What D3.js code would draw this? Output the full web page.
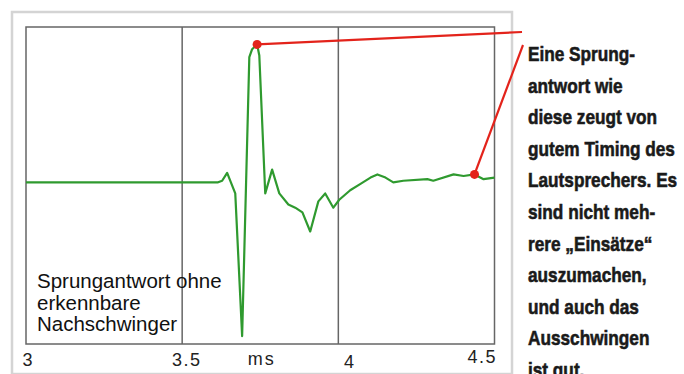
<!DOCTYPE html>
<html>
<head>
<meta charset="utf-8">
<script src="https://cdn.jsdelivr.net/npm/d3@7"></script>
<style>
  body { margin: 0; background: #fff; }
  svg { display: block; }
</style>
</head>
<body>
<div id="chart"></div>
<script>
const zeit = [3.000, 3.615, 3.628, 3.644, 3.670, 3.692, 3.715, 3.724, 3.740, 3.747,
              3.766, 3.788, 3.811, 3.840, 3.862, 3.885, 3.910, 3.936, 3.958, 3.984,
              4.003, 4.038, 4.071, 4.103, 4.125, 4.151, 4.176, 4.208, 4.285, 4.304,
              4.369, 4.401, 4.436, 4.465, 4.500];
const amplitude = [0.02, 0.02, 0.03, 0.08, -0.05, -0.95, 0.81, 0.86, 0.89, 0.82,
                   -0.05, 0.10, -0.05, -0.12, -0.14, -0.17, -0.29, -0.10, -0.05, -0.14,
                   -0.09, -0.03, 0.01, 0.05, 0.07, 0.05, 0.02, 0.03, 0.04, 0.03,
                   0.07, 0.06, 0.07, 0.04, 0.05];
const markerIdx = [8, 32];   // rote Punkte: Spitze und Ausschwingen

const tickWerte = [3, 3.5, 4, 4.5];
const tickText = ["3", "3.5", "4", "4.5"];
const gridWerte = [3.5, 4];
const einheit = "ms";

const notiz = ["Sprungantwort ohne", "erkennbare", "Nachschwinger"];
const randText = ["Eine Sprung-", "antwort wie", "diese zeugt von", "gutem Timing des",
                  "Lautsprechers. Es", "sind nicht meh-", "rere \u201eEinsätze\u201c",
                  "auszumachen,", "und auch das", "Ausschwingen", "ist gut."];

const W = 684, H = 374;
const plot = {left: 26, top: 27, right: 494.5, bottom: 344};

const svg = d3.select("#chart")
              .append("svg")
              .attr("width", W)
              .attr("height", H);

// äußerer Rahmen
svg.append("rect")
   .attr("x", 12).attr("y", 12)
   .attr("width", 500).attr("height", 362)
   .attr("fill", "none")
   .attr("stroke", "#d4d4d4")
   .attr("stroke-width", 2.5);

const x = d3.scaleLinear()
            .domain([3, 4.5])
            .range([plot.left, plot.right]);

const y = d3.scaleLinear()
            .domain([-1, 1])
            .range([plot.bottom, plot.top]);

// Gitter
svg.selectAll(".grid")
   .data(gridWerte)
   .enter()
   .append("line")
   .attr("class", "grid")
   .attr("x1", d => x(d)).attr("x2", d => x(d))
   .attr("y1", plot.top).attr("y2", plot.bottom)
   .attr("stroke", "#666")
   .attr("stroke-width", 1.5);

svg.append("rect")
   .attr("x", plot.left).attr("y", plot.top)
   .attr("width", plot.right - plot.left)
   .attr("height", plot.bottom - plot.top)
   .attr("fill", "none")
   .attr("stroke", "#666")
   .attr("stroke-width", 1.5);

// x-Achse, Beschriftung etwas versetzt wie im Original
const achse = svg.append("g")
   .attr("transform", `translate(0, ${plot.bottom})`)
   .call(d3.axisBottom(x)
           .tickValues(tickWerte)
           .tickFormat((d, i) => tickText[i])
           .tickSize(0)
           .tickPadding(0));
achse.select(".domain").remove();
achse.selectAll("text")
     .attr("y", 22)
     .attr("dy", 0)
     .style("font-family", "'Liberation Sans', Arial, sans-serif")
     .style("font-size", "18px")
     .style("letter-spacing", "1.5px")
     .attr("fill", "#222")
     .attr("text-anchor", (d, i) => i === 0 ? "start" : i === tickWerte.length - 1 ? "end" : "middle")
     .attr("dx", (d, i) => i === 0 ? -4 : i === 1 ? 4 : i === 2 ? 11 : 2)
     .attr("dy", (d, i) => i === 2 ? 2 : i === 3 ? -3 : 0);

svg.append("text")
   .attr("x", x(3.755))
   .attr("y", plot.bottom + 21)
   .attr("text-anchor", "middle")
   .style("font-family", "'Liberation Sans', Arial, sans-serif")
   .style("font-size", "18px")
   .style("letter-spacing", "2px")
   .attr("fill", "#222")
   .text(einheit);

// Kurve
const punkte = zeit.map((t, i) => ({t, a: amplitude[i]}));
const linie = d3.line()
                .x(d => x(d.t))
                .y(d => y(d.a));

svg.append("path")
   .datum(punkte)
   .attr("d", linie)
   .attr("fill", "none")
   .attr("stroke", "#2f9a2f")
   .attr("stroke-width", 2.2)
   .attr("stroke-linejoin", "round");

// Notiz links unten
svg.append("text")
   .attr("x", 37)
   .attr("y", 288)
   .style("font-family", "'Liberation Sans', Arial, sans-serif")
   .style("font-size", "20.5px")
   .attr("fill", "#111")
   .selectAll("tspan")
   .data(notiz)
   .enter()
   .append("tspan")
   .attr("x", 37)
   .attr("dy", (d, i) => i === 0 ? 0 : 21.5)
   .text(d => d);

// rote Hinweislinien
const spitze = punkte[markerIdx[0]], aus = punkte[markerIdx[1]];
svg.append("line")
   .attr("x1", x(spitze.t)).attr("y1", y(spitze.a))
   .attr("x2", 522).attr("y2", 32)
   .attr("stroke", "#e3231b").attr("stroke-width", 2.2);
svg.append("line")
   .attr("x1", x(aus.t)).attr("y1", y(aus.a))
   .attr("x2", 523).attr("y2", 45)
   .attr("stroke", "#e3231b").attr("stroke-width", 2.2);

svg.selectAll(".marker")
   .data(markerIdx.map(i => punkte[i]))
   .enter()
   .append("circle")
   .attr("class", "marker")
   .attr("cx", d => x(d.t))
   .attr("cy", d => y(d.a))
   .attr("r", 4.5)
   .attr("fill", "#e3231b");

// Text rechts - schmal gestaucht, da keine Condensed-Schrift vorhanden
svg.append("g")
   .selectAll("text")
   .data(randText)
   .enter()
   .append("text")
   .attr("transform", (d, i) => `translate(528, ${61 + i * 31.6}) scale(0.82, 1)`)
   .style("font-family", "'Liberation Sans', Arial, sans-serif")
   .style("font-weight", "bold")
   .style("font-size", "21px")
   .attr("fill", "#1a1a1a")
   .attr("stroke", "#1a1a1a")
   .attr("stroke-width", 0.6)
   .text(d => d);
</script>
</body>
</html>
